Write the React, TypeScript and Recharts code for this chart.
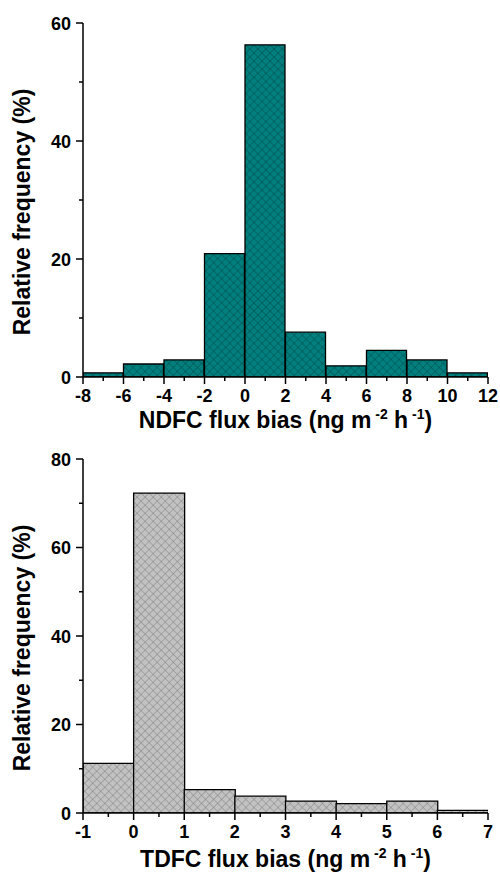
import React from "react";
import { BarChart, Bar, XAxis, YAxis } from "recharts";

const FONT = "'Liberation Sans', Arial, Helvetica, sans-serif";

// NDFC histogram (bin centres, bin width 2)
const ndfcBinMids = [-7, -5, -3, -1, 1, 3, 5, 7, 9, 11];
const ndfcFreq = [0.7, 2.2, 2.9, 20.9, 56.3, 7.6, 1.9, 4.5, 2.9, 0.7];
const ndfcXMajor = [-8, -6, -4, -2, 0, 2, 4, 6, 8, 10, 12];
const ndfcXMinor = [-7, -5, -3, -1, 1, 3, 5, 7, 9, 11];
const ndfcYMajor = [0, 20, 40, 60];
const ndfcYMinor = [10, 30, 50];

// TDFC histogram (bin centres, bin width 1)
const tdfcBinMids = [-0.5, 0.5, 1.5, 2.5, 3.5, 4.5, 5.5, 6.5];
const tdfcFreq = [11.2, 72.3, 5.3, 3.8, 2.7, 2.1, 2.7, 0.6];
const tdfcXMajor = [-1, 0, 1, 2, 3, 4, 5, 6, 7];
const tdfcXMinor = [-0.5, 0.5, 1.5, 2.5, 3.5, 4.5, 5.5, 6.5];
const tdfcYMajor = [0, 20, 40, 60, 80];
const tdfcYMinor = [10, 30, 50, 70];

const Y_TITLE = "Relative frequency (%)";

interface HistProps {
  mids: number[];
  freq: number[];
  xMajor: number[];
  xMinor: number[];
  yMajor: number[];
  yMinor: number[];
  prefix: string;
  fill: string;
  lineColor: string;
  patternId: string;
  height: number;
  top: number;
  xAxisHeight: number;
  titleOffset: number;
}

const Histogram = (p: HistProps) => {
  const data = p.mids.map((m, i) => ({ mid: m, freq: p.freq[i] }));
  const xDomain = [p.xMajor[0], p.xMajor[p.xMajor.length - 1]];
  const yDomain = [p.yMajor[0], p.yMajor[p.yMajor.length - 1]];

  const XTick = ({ x, y, payload }: any) => {
    const major = p.xMajor.includes(payload.value);
    return (
      <g>
        <line x1={x} x2={x} y1={y} y2={y + (major ? 7 : 4)} stroke="#000" strokeWidth={1.5} />
        {major && (
          <text x={x} y={y + 24.5} textAnchor="middle" fontFamily={FONT} fontWeight="bold" fontSize={18} fill="#000">
            {payload.value}
          </text>
        )}
      </g>
    );
  };

  const YTick = ({ x, y, payload }: any) => {
    const major = p.yMajor.includes(payload.value);
    return (
      <g>
        <line x1={x - (major ? 7 : 4)} x2={x} y1={y} y2={y} stroke="#000" strokeWidth={1.5} />
        {major && (
          <text x={x - 12} y={y + 6.5} textAnchor="end" fontFamily={FONT} fontWeight="bold" fontSize={18} fill="#000">
            {payload.value}
          </text>
        )}
      </g>
    );
  };

  const xTitle = (lp: any) => {
    const vb = lp.viewBox;
    return (
      <text x={vb.x + vb.width / 2} y={vb.y + p.titleOffset} textAnchor="middle" fontFamily={FONT} fontWeight="bold" fontSize={23} fill="#000">
        <tspan>{p.prefix + " (ng m"}</tspan>
        <tspan dy={-9} fontSize={14}>{" -2"}</tspan>
        <tspan dy={9}>{" h"}</tspan>
        <tspan dy={-9} fontSize={14}>{" -1"}</tspan>
        <tspan dy={9}>{")"}</tspan>
      </text>
    );
  };

  const yTitle = (lp: any) => {
    const vb = lp.viewBox;
    const cx = 30;
    const cy = vb.y + vb.height / 2 + 12;
    return (
      <text x={cx} y={cy} transform={`rotate(-90, ${cx}, ${cy})`} textAnchor="middle" fontFamily={FONT} fontWeight="bold" fontSize={23} fill="#000">
        {Y_TITLE}
      </text>
    );
  };

  return (
    <BarChart
      width={500}
      height={p.height}
      data={data}
      margin={{ top: p.top, right: 12, left: 0, bottom: 0 }}
      barCategoryGap={0}
      barGap={0}
    >
      <defs>
        <pattern id={p.patternId} patternUnits="userSpaceOnUse" width={5.7} height={5.7} patternTransform="rotate(45)">
          <rect width={5.7} height={5.7} fill={p.fill} />
          <path d="M0,0 H5.7 M0,0 V5.7" stroke={p.lineColor} strokeWidth={0.9} />
        </pattern>
      </defs>
      <XAxis
        dataKey="mid"
        type="number"
        domain={xDomain}
        allowDataOverflow
        ticks={[...p.xMajor, ...p.xMinor]}
        interval={0}
        tickSize={0}
        tickMargin={0}
        tick={<XTick />}
        axisLine={{ stroke: "#000", strokeWidth: 1.5 }}
        tickLine={false}
        height={p.xAxisHeight}
        label={xTitle}
      />
      <XAxis
        xAxisId="top"
        orientation="top"
        dataKey="mid"
        type="number"
        domain={xDomain}
        allowDataOverflow
        height={0}
        tick={false}
        tickLine={false}
        axisLine={{ stroke: "#000", strokeWidth: 1.5 }}
      />
      <YAxis
        type="number"
        domain={yDomain}
        allowDataOverflow
        ticks={[...p.yMajor, ...p.yMinor]}
        interval={0}
        tickSize={0}
        tickMargin={0}
        tick={<YTick />}
        tickLine={false}
        axisLine={{ stroke: "#000", strokeWidth: 1.5 }}
        width={83}
        label={yTitle}
      />
      <YAxis
        yAxisId="right"
        orientation="right"
        type="number"
        domain={yDomain}
        allowDataOverflow
        width={0}
        tick={false}
        tickLine={false}
        axisLine={{ stroke: "#000", strokeWidth: 1.5 }}
      />
      <Bar
        dataKey="freq"
        fill={`url(#${p.patternId})`}
        stroke="#000"
        strokeWidth={1.3}
        isAnimationActive={false}
      />
    </BarChart>
  );
};

export default function App() {
  return (
    <div style={{ position: "absolute", left: 0, top: 0, width: 500, height: 873, background: "#fff" }}>
      <Histogram
        mids={ndfcBinMids}
        freq={ndfcFreq}
        xMajor={ndfcXMajor}
        xMinor={ndfcXMinor}
        yMajor={ndfcYMajor}
        yMinor={ndfcYMinor}
        prefix="NDFC flux bias"
        fill="#007f7e"
        lineColor="#004848"
        patternId="hatchTeal"
        height={440}
        top={23}
        xAxisHeight={63}
        titleOffset={51}
      />
      <Histogram
        mids={tdfcBinMids}
        freq={tdfcFreq}
        xMajor={tdfcXMajor}
        xMinor={tdfcXMinor}
        yMajor={tdfcYMajor}
        yMinor={tdfcYMinor}
        prefix="TDFC flux bias"
        fill="#c2c2c2"
        lineColor="#7c7c7c"
        patternId="hatchGray"
        height={433}
        top={19}
        xAxisHeight={60}
        titleOffset={54}
      />
    </div>
  );
}
